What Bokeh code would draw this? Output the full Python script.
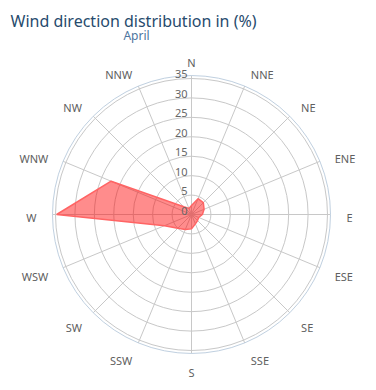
import math
from bokeh.plotting import figure
from bokeh.models import Range1d, Label, ColumnDataSource
from bokeh.core.properties import value
from bokeh.embed import file_html
from bokeh.resources import INLINE

# ---- data ----
directions = ["N", "NNE", "NE", "ENE", "E", "ESE", "SE", "SSE",
              "S", "SSW", "SW", "WSW", "W", "WNW", "NW", "NNW"]
april_pct = [2.3, 4.4, 4.3, 3.5, 2.8, 2.0, 2.2, 2.6,
             3.7, 4.2, 5.0, 7.5, 34.7, 22.4, 2.8, 1.7]
radial_ticks = [0, 5, 10, 15, 20, 25, 30, 35]
title_text = "Wind direction distribution in (%)"
subtitle_text = "April"

# ---- layout (pixels) ----
W, H = 376, 390
PX = 3.886            # pixels per percent unit
CX, CY = 191, 214     # centre of the pane inside the figure (pixels from top-left)
OUTER = 35.77         # outer pane radius in value units
LABEL_R = 155 / PX

p = figure(width=W, height=H, output_backend="svg", toolbar_location=None,
           x_range=Range1d(-CX / PX, (W - CX) / PX),
           y_range=Range1d(-(H - CY) / PX, CY / PX),
           min_border=0, outline_line_color=None)
p.axis.visible = False
p.grid.visible = False
p.background_fill_color = "white"

n = len(directions)
angles = [2 * math.pi * i / n for i in range(n)]

# spokes
p.segment(x0=[0] * n, y0=[0] * n,
          x1=[OUTER * math.sin(a) for a in angles],
          y1=[OUTER * math.cos(a) for a in angles],
          line_color="#c8c8c8", line_width=1)

# concentric grid circles
grid_r = [t for t in radial_ticks if t > 0]
p.circle(x=[0] * len(grid_r), y=[0] * len(grid_r), radius=grid_r,
         fill_color=None, line_color="#c8c8c8", line_width=1)
# outer pane line
p.circle(x=[0], y=[0], radius=[OUTER], fill_color=None,
         line_color="#c0d0e0", line_width=1)

# area series
xs = [v * math.sin(a) for v, a in zip(april_pct, angles)]
ys = [v * math.cos(a) for v, a in zip(april_pct, angles)]
p.patch(xs + [xs[0]], ys + [ys[0]], fill_color="#ff0000", fill_alpha=0.45,
        line_color="#ff6464", line_width=1.5)

# radial tick labels
p.text(x=[-4 / PX] * len(radial_ticks), y=[t + 4 / PX for t in radial_ticks],
       text=[str(t) for t in radial_ticks],
       text_align="right", text_baseline="middle",
       text_font=value("Noto Sans"), text_font_size="11px", text_color="#666666")

# direction labels
lx, ly, la = [], [], []
for a in angles:
    sx = math.sin(a)
    lx.append(LABEL_R * sx)
    ly.append(LABEL_R * math.cos(a) - 3 / PX)
    la.append("left" if sx > 0.01 else ("right" if sx < -0.01 else "center"))
src = ColumnDataSource(dict(x=lx, y=ly, t=directions, a=la))
p.text(x="x", y="y", text="t", text_align="a", text_baseline="middle",
       text_font=value("Noto Sans"), text_font_size="11px", text_color="#606060",
       source=src)

# titles
p.add_layout(Label(x=10, y=H - 20.7, x_units="screen", y_units="screen",
                   text=title_text, text_font="Noto Sans", text_font_size="16px",
                   text_color="#274b6d", text_baseline="alphabetic"))
p.add_layout(Label(x=136, y=H - 35, x_units="screen", y_units="screen",
                   text=subtitle_text, text_font="Noto Sans", text_font_size="12px",
                   text_color="#4d759e", text_align="center",
                   text_baseline="alphabetic"))

open("out.html", "w").write(file_html(p, INLINE))
